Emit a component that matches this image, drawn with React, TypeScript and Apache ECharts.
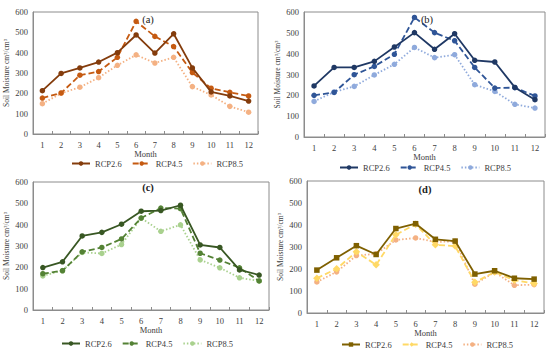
import React, { useEffect, useRef } from "react";
import * as echarts from "echarts";

const months = ["1", "2", "3", "4", "5", "6", "7", "8", "9", "10", "11", "12"];
const seriesNames = ["RCP2.6", "RCP4.5", "RCP8.5"];
const panelLabels = ["(a)", "(b)", "(c)", "(d)"];

const a26 = [213, 298, 325, 354, 400, 487, 398, 493, 325, 207, 187, 162];
const a45 = [177, 202, 289, 307, 377, 554, 480, 430, 302, 225, 205, 187];
const a85 = [149, 200, 230, 277, 338, 389, 349, 377, 233, 192, 136, 107];

const b26 = [245, 334, 334, 363, 432, 501, 421, 496, 368, 360, 238, 179];
const b45 = [200, 214, 299, 339, 397, 574, 501, 462, 334, 235, 237, 197];
const b85 = [171, 216, 243, 298, 349, 430, 381, 395, 251, 219, 157, 139];

const c26 = [199, 226, 347, 364, 402, 463, 466, 491, 305, 293, 188, 164];
const c45 = [170, 184, 273, 293, 333, 431, 478, 475, 266, 234, 198, 136];
const c85 = [160, 185, 270, 265, 307, 431, 369, 399, 235, 198, 151, 136];

const d26 = [195, 251, 306, 266, 384, 406, 335, 327, 177, 192, 158, 154];
const d45 = [158, 201, 278, 219, 356, 403, 310, 304, 140, 186, 149, 134];
const d85 = [141, 187, 261, 269, 332, 341, 323, 326, 131, 186, 126, 129];

const panelData = [
  [a26, a45, a85],
  [b26, b45, b85],
  [c26, c45, c85],
  [d26, d45, d85],
];

const panelColors = [
  ["#843C0C", "#C55A11", "#F4B183"],
  ["#1F3864", "#2F5597", "#8FAADC"],
  ["#385723", "#548235", "#A9D18E"],
  ["#7F6000", "#FFD966", "#F4B183"],
];

const panelSymbols = [
  ["circle", "circle", "circle"],
  ["circle", "circle", "circle"],
  ["circle", "circle", "circle"],
  ["rect", "diamond", "circle"],
];

const grids = [
  { left: 33, top: 12, width: 225, height: 122 },
  { left: 304, top: 12, width: 241, height: 125 },
  { left: 33, top: 182, width: 236, height: 128 },
  { left: 307, top: 181, width: 237, height: 132 },
];

const legendPos = [
  { left: 66, top: 154 },
  { left: 334, top: 158 },
  { left: 56, top: 334 },
  { left: 336, top: 335 },
];

const labelPos = [
  { x: 148, y: 19, bold: false },
  { x: 427, y: 19, bold: false },
  { x: 148, y: 187, bold: true },
  { x: 425, y: 189, bold: true },
];

const FONT = "'Liberation Serif', 'Times New Roman', serif";
const lineTypes: any[] = ["solid", [6, 3], [1.5, 2]];

export default function App() {
  const ref = useRef<HTMLDivElement>(null);
  useEffect(() => {
    if (!ref.current) return;
    const chart = echarts.init(ref.current, undefined, { renderer: "svg" });
    const series: any[] = [];
    const legends: any[] = [];
    panelData.forEach((sets, p) => {
      const names: string[] = [];
      sets.forEach((vals, s) => {
        const name = p + "|" + seriesNames[s];
        names.push(name);
        series.push({
          type: "line",
          name,
          xAxisIndex: p,
          yAxisIndex: p,
          data: vals,
          symbol: panelSymbols[p][s],
          symbolSize: panelSymbols[p][s] === "diamond" ? 7.5 : 5.5,
          color: panelColors[p][s],
          lineStyle: { width: 1.8, type: lineTypes[s], color: panelColors[p][s] },
          itemStyle: { color: panelColors[p][s] },
          z: 5 - s,
        });
      });
      legends.push({
        left: legendPos[p].left,
        top: legendPos[p].top,
        data: names,
        itemWidth: 18,
        itemHeight: 5.5,
        itemGap: 10,
        formatter: (n: string) => n.split("|")[1],
        textStyle: { fontFamily: FONT, fontSize: 8.5, color: "#404040" },
        selectedMode: false,
      });
    });
    chart.setOption({
      animation: false,
      grid: grids.map((g) => ({
        ...g,
        show: true,
        borderColor: "#8c8c8c",
        borderWidth: 1,
        backgroundColor: "transparent",
        containLabel: false,
      })),
      xAxis: grids.map((_, i) => ({
        type: "category",
        gridIndex: i,
        data: months,
        boundaryGap: true,
        name: "Month",
        nameLocation: "middle",
        nameGap: 15,
        nameTextStyle: { fontFamily: FONT, fontSize: 8.5, color: "#404040" },
        axisLine: { show: true, lineStyle: { color: "#8c8c8c" } },
        axisTick: { show: true, inside: true, length: 3, lineStyle: { color: "#8c8c8c" } },
        axisLabel: { fontFamily: FONT, fontSize: 8.5, color: "#404040", margin: 6 },
        splitLine: { show: false },
      })),
      yAxis: grids.map((_, i) => ({
        type: "value",
        gridIndex: i,
        min: 0,
        max: 600,
        interval: 100,
        name: "Soil Moisture cm³/cm³",
        nameLocation: "middle",
        nameGap: 23,
        nameTextStyle: { fontFamily: FONT, fontSize: 7.5, color: "#404040" },
        axisLine: { show: true, lineStyle: { color: "#8c8c8c" } },
        axisTick: { show: false },
        axisLabel: { fontFamily: FONT, fontSize: 8.5, color: "#404040", margin: 5 },
        splitLine: { show: false },
      })),
      legend: legends,
      graphic: labelPos.map((l, i) => ({
        type: "text",
        x: l.x,
        y: l.y,
        style: {
          text: panelLabels[i],
          fontFamily: FONT,
          fontSize: 10.5,
          fontWeight: l.bold ? "bold" : "normal",
          fill: "#202020",
          textAlign: "center",
          textVerticalAlign: "middle",
        },
        z: 10,
      })),
      series,
    });
    return () => chart.dispose();
  }, []);
  return (
    <div
      ref={ref}
      style={{ position: "fixed", left: 0, top: 0, width: 550, height: 352, background: "#fff" }}
    />
  );
}
